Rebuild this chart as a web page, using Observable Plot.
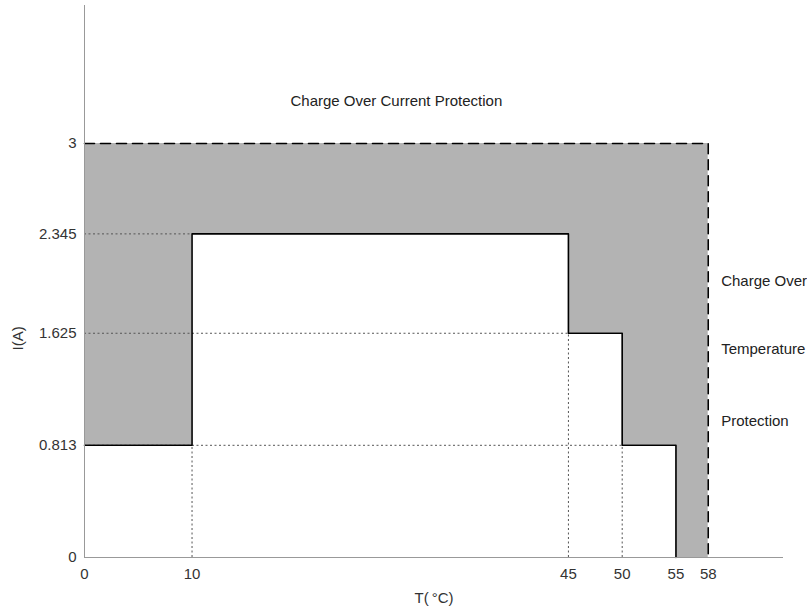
<!DOCTYPE html>
<html>
<head>
<meta charset="utf-8">
<script src="https://cdn.jsdelivr.net/npm/d3@7"></script>
<script src="https://cdn.jsdelivr.net/npm/@observablehq/plot@0.6"></script>
<style>
  html, body { margin: 0; padding: 0; background: #fff; }
  #chart { width: 807px; height: 609px; }
</style>
</head>
<body>
<div id="chart"></div>
<script>
// Step boundary of the allowed charge current vs temperature
const temps = [0, 10, 45, 50, 55, 58];
const currents = [0.813, 2.345, 1.625, 0.813, 0, 0];
const maxCurrent = 3;
const maxTemp = 58;
const xTicks = [0, 10, 45, 50, 55, 58];
const yTicks = [0, 0.813, 1.625, 2.345, 3];
// guide lines: horizontal (current -> up to temp), vertical (temp -> up to current)
const hGuideY = [2.345, 1.625, 0.813];
const hGuideX2 = [10, 45, 50];
const vGuideX = [10, 45, 50];
const vGuideY2 = [0.813, 1.625, 0.813];
const titleText = ["Charge Over Current Protection"];
const titleX = [29.0];
const titleY = [3.31];
const sideTexts = ["Charge Over", "Temperature", "Protection"];
const sideX = [59.2, 59.2, 59.2];
const sideY = [2.0, 1.51, 0.99];
const yLabelText = ["I(A)"];
const yLabelAt = [1.5];

const stepData = temps.map((t, i) => ({t, lo: currents[i], hi: maxCurrent}));
const lineData = stepData.slice(0, 5);
const hGuides = hGuideY.map((y, i) => ({y, x2: hGuideX2[i]}));
const vGuides = vGuideX.map((x, i) => ({x, y2: vGuideY2[i]}));
const titleLabels = titleText.map((s, i) => ({s, x: titleX[i], y: titleY[i]}));
const sideLabels = sideTexts.map((s, i) => ({s, x: sideX[i], y: sideY[i]}));
const yLabel = yLabelText.map((s, i) => ({s, y: yLabelAt[i]}));
const dashedBorder = [{t: 0, v: maxCurrent}, {t: maxTemp, v: maxCurrent}, {t: maxTemp, v: 0}];

const chart = Plot.plot({
  width: 807,
  height: 609,
  marginLeft: 84,
  marginRight: 24,
  marginTop: 5,
  marginBottom: 52,
  style: {fontFamily: "'Liberation Sans', Arial, Helvetica, sans-serif", fontSize: "15px", color: "#333", background: "#fff"},
  x: {domain: [0, 65]},
  y: {domain: [0, 4]},
  marks: [
    Plot.areaY(stepData, {x: "t", y1: "lo", y2: "hi", curve: "step-after", fill: "#b3b3b3"}),
    Plot.ruleY(hGuides, {y: "y", x1: 0, x2: "x2", stroke: "#555", strokeWidth: 1, strokeDasharray: "2,2.5"}),
    Plot.ruleX(vGuides, {x: "x", y1: 0, y2: "y2", stroke: "#555", strokeWidth: 1, strokeDasharray: "2,2.5"}),
    Plot.line(lineData, {x: "t", y: "lo", curve: "step-after", stroke: "#000", strokeWidth: 1.6}),
    Plot.line(dashedBorder, {x: "t", y: "v", stroke: "#000", strokeWidth: 1.6, strokeDasharray: "10,6"}),
    Plot.ruleY([0], {stroke: "#999", strokeWidth: 1}),
    Plot.ruleX([0], {stroke: "#999", strokeWidth: 1}),
    Plot.text(titleLabels, {x: "x", y: "y", text: "s", textAnchor: "middle", fill: "#222", fontSize: 15}),
    Plot.text(sideLabels, {x: "x", y: "y", text: "s", textAnchor: "start", fill: "#222", fontSize: 15}),
    Plot.text(yLabel, {y: "y", text: "s", frameAnchor: "left", dx: -66, rotate: -90, fill: "#333", fontSize: 15}),
    Plot.axisX({ticks: xTicks, tickSize: 0, tickPadding: 11, tickFormat: d => String(d), fill: "#333", fontSize: 15, label: "T(\u2009°C)", labelAnchor: "center", labelArrow: "none", labelOffset: 45}),
    Plot.axisY({ticks: yTicks, tickSize: 0, tickPadding: 8, tickFormat: d => String(d), fill: "#333", fontSize: 15, label: null})
  ]
});
document.getElementById("chart").appendChild(chart);
</script>
</body>
</html>
